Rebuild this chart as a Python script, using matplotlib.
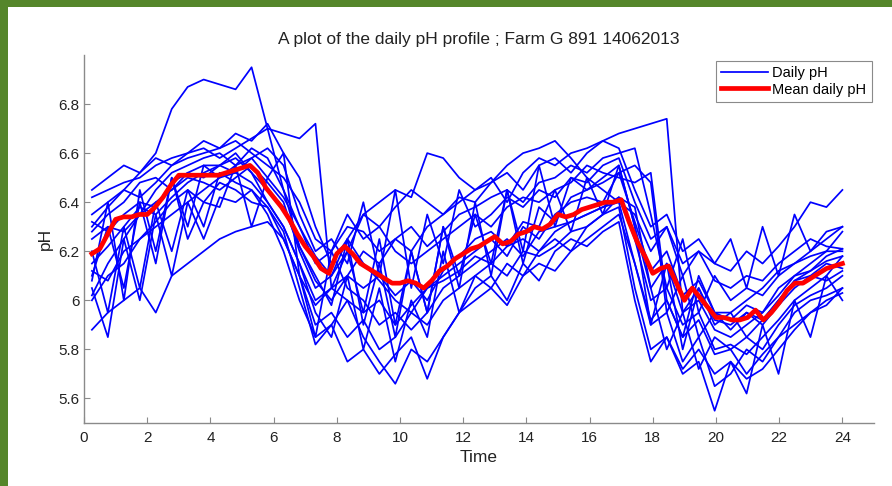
import matplotlib
matplotlib.use("Agg")
import matplotlib.pyplot as plt
from matplotlib.patches import Rectangle
from matplotlib.ticker import FuncFormatter
import numpy as np

plt.rcParams['font.family'] = ['Liberation Sans', 'DejaVu Sans']

# sampling grid of the daily profiles (hours)
time = np.linspace(0.25, 24, 48)

# individual daily pH profiles
daily_ph = [
    [6.30, 6.38, 6.45, 6.52, 6.60, 6.78, 6.87, 6.90, 6.88, 6.86, 6.95, 6.70, 6.45, 6.22, 6.10, 5.98,
     6.25, 5.90, 6.15, 5.85, 6.20, 5.95, 6.30, 6.10, 6.35, 6.15, 6.45, 6.20, 6.55, 6.30, 6.50, 6.45,
     6.50, 6.55, 6.30, 6.05, 6.15, 5.95, 6.00, 5.88, 5.85, 5.90, 5.95, 6.05, 6.10, 6.15, 6.20, 6.28],
    [6.42, 6.45, 6.48, 6.50, 6.55, 6.58, 6.60, 6.62, 6.58, 6.62, 6.66, 6.70, 6.68, 6.66, 6.72, 6.05,
     6.20, 6.35, 6.40, 6.45, 6.42, 6.60, 6.58, 6.50, 6.45, 6.48, 6.55, 6.60, 6.62, 6.65, 6.58, 6.50,
     6.45, 6.40, 6.35, 6.20, 6.30, 6.10, 6.20, 6.15, 6.12, 6.20, 6.15, 6.22, 6.30, 6.40, 6.38, 6.45],
    [6.10, 6.30, 6.05, 6.40, 6.15, 6.50, 6.30, 6.55, 6.55, 6.60, 6.52, 6.40, 6.30, 6.15, 6.00, 6.05,
     6.10, 6.20, 6.15, 6.25, 6.20, 6.30, 6.35, 6.40, 6.45, 6.50, 6.40, 6.52, 6.58, 6.55, 6.60, 6.62,
     6.65, 6.68, 6.70, 6.72, 6.74, 5.95, 6.05, 5.90, 5.95, 5.85, 5.92, 6.00, 6.08, 6.12, 6.18, 6.21],
    [5.88, 5.95, 6.00, 6.05, 5.95, 6.10, 6.15, 6.20, 6.25, 6.28, 6.30, 6.32, 6.25, 6.10, 5.90, 5.95,
     5.85, 5.92, 5.80, 5.85, 5.95, 5.90, 6.00, 6.05, 6.10, 6.05, 6.15, 6.10, 6.20, 6.25, 6.20, 6.30,
     6.35, 6.42, 6.38, 6.05, 5.80, 5.95, 5.72, 5.85, 5.80, 5.70, 5.78, 5.85, 5.90, 5.95, 6.00, 6.03],
    [6.02, 6.15, 6.25, 6.35, 6.40, 6.45, 6.50, 6.48, 6.45, 6.50, 6.55, 6.48, 6.40, 6.20, 6.05, 6.10,
     6.25, 6.15, 6.08, 6.00, 5.95, 6.05, 6.10, 6.15, 6.20, 6.25, 6.18, 6.30, 6.25, 6.35, 6.40, 6.42,
     6.40, 6.52, 6.55, 6.48, 5.95, 6.10, 5.85, 5.95, 5.88, 5.95, 5.90, 5.98, 6.05, 6.10, 6.08, 6.12],
    [6.20, 5.95, 6.30, 6.05, 6.40, 6.20, 6.45, 6.30, 6.52, 6.48, 6.45, 6.35, 6.20, 6.00, 5.85, 5.90,
     6.00, 5.85, 5.75, 5.66, 5.80, 5.75, 5.85, 5.95, 6.00, 6.05, 5.98, 6.10, 6.15, 6.12, 6.20, 6.25,
     6.30, 6.35, 6.15, 5.90, 5.95, 5.75, 5.85, 5.65, 5.70, 5.80, 5.75, 5.85, 5.95, 6.00, 6.02, 6.05],
    [6.35, 6.40, 6.45, 6.42, 6.48, 6.55, 6.58, 6.60, 6.62, 6.65, 6.60, 6.55, 6.50, 6.40, 6.25, 6.20,
     6.30, 6.28, 6.20, 6.25, 6.30, 6.22, 6.28, 6.35, 6.38, 6.42, 6.45, 6.40, 6.48, 6.50, 6.55, 6.52,
     6.58, 6.60, 6.62, 6.35, 6.05, 6.25, 5.95, 6.10, 6.00, 6.05, 6.02, 6.10, 6.15, 6.20, 6.25, 6.30],
    [6.12, 6.08, 6.20, 6.25, 6.32, 6.40, 6.45, 6.40, 6.38, 6.55, 6.30, 6.50, 6.60, 6.10, 5.85, 6.20,
     6.05, 6.00, 5.90, 5.95, 5.88, 5.95, 6.05, 6.10, 6.15, 6.20, 6.25, 6.18, 6.28, 6.30, 6.32, 6.35,
     6.38, 6.42, 6.25, 6.00, 6.05, 5.90, 5.95, 5.80, 5.82, 5.78, 5.85, 5.92, 6.00, 6.05, 6.10, 6.18],
    [6.25, 6.30, 6.28, 6.35, 6.45, 6.52, 6.55, 6.58, 6.60, 6.55, 6.62, 6.58, 6.45, 6.30, 6.15, 6.20,
     6.35, 6.25, 6.30, 6.20, 6.15, 6.20, 6.25, 6.30, 6.35, 6.30, 6.38, 6.42, 6.40, 6.45, 6.48, 6.55,
     6.52, 6.50, 6.48, 6.52, 6.00, 5.85, 6.10, 5.95, 5.95, 6.00, 6.05, 6.12, 6.15, 6.18, 6.20, 6.20],
    [6.00, 6.10, 6.15, 6.25, 6.30, 6.35, 6.40, 6.45, 6.50, 6.52, 6.48, 6.40, 6.30, 6.15, 5.95, 5.85,
     6.10, 5.80, 6.05, 5.75, 6.00, 5.85, 6.20, 5.95, 6.10, 6.15, 6.10, 6.20, 6.18, 6.22, 6.28, 6.30,
     6.35, 6.38, 6.05, 5.80, 5.85, 5.70, 5.75, 5.55, 5.75, 5.62, 5.90, 5.70, 6.00, 5.85, 6.10, 6.00],
    [6.15, 6.22, 6.30, 6.38, 6.35, 6.42, 6.48, 6.52, 6.55, 6.58, 6.52, 6.45, 6.38, 6.22, 6.08, 6.00,
     6.10, 6.05, 6.10, 6.02, 6.08, 6.00, 6.12, 6.18, 6.25, 6.28, 6.22, 6.32, 6.30, 6.45, 6.28, 6.50,
     6.35, 6.55, 6.30, 5.90, 6.15, 5.80, 6.05, 5.92, 5.90, 5.95, 5.92, 6.00, 6.08, 6.10, 6.15, 6.13],
    [6.45, 6.50, 6.55, 6.52, 6.58, 6.55, 6.60, 6.65, 6.62, 6.68, 6.65, 6.72, 6.60, 6.50, 6.30, 6.15,
     6.25, 6.35, 6.30, 6.38, 6.45, 6.40, 6.35, 6.42, 6.40, 6.48, 6.52, 6.45, 6.55, 6.58, 6.52, 6.60,
     6.65, 6.62, 6.45, 6.30, 6.35, 6.20, 6.25, 6.15, 6.25, 6.05, 6.30, 6.10, 6.35, 6.20, 6.28, 6.30],
    [6.05, 5.85, 6.25, 6.00, 6.35, 6.10, 6.40, 6.25, 6.42, 6.40, 6.45, 6.38, 6.28, 6.05, 5.82, 5.90,
     5.75, 5.80, 5.70, 5.78, 5.85, 5.68, 5.85, 5.95, 6.05, 6.10, 6.00, 6.15, 6.08, 6.20, 6.25, 6.22,
     6.28, 6.32, 6.00, 5.75, 5.85, 5.72, 5.80, 5.70, 5.75, 5.68, 5.72, 5.80, 5.88, 5.95, 5.98, 6.05],
    [6.28, 6.35, 6.40, 6.48, 6.50, 6.45, 6.52, 6.55, 6.50, 6.55, 6.58, 6.62, 6.55, 6.35, 6.20, 6.25,
     6.15, 6.40, 6.10, 6.45, 6.05, 6.35, 6.15, 6.45, 6.30, 6.35, 6.42, 6.38, 6.45, 6.42, 6.50, 6.48,
     6.55, 6.58, 6.40, 6.25, 6.30, 6.15, 6.20, 6.08, 6.05, 6.10, 6.08, 6.15, 6.20, 6.25, 6.22, 6.21],
    [6.08, 6.40, 6.00, 6.45, 6.20, 6.50, 6.25, 6.40, 6.48, 6.45, 6.40, 6.38, 6.25, 6.10, 5.98, 6.05,
     6.00, 5.95, 6.00, 5.90, 5.98, 6.05, 6.08, 6.12, 6.18, 6.15, 6.22, 6.25, 6.20, 6.28, 6.32, 6.35,
     6.38, 6.40, 6.15, 5.92, 6.00, 5.85, 5.92, 5.78, 5.80, 5.85, 5.80, 5.90, 5.98, 6.02, 6.05, 6.10],
    [6.32, 6.28, 6.35, 6.40, 6.38, 6.48, 6.52, 6.50, 6.55, 6.52, 6.58, 6.50, 6.42, 6.30, 6.18, 6.10,
     6.20, 5.95, 6.25, 5.90, 6.20, 5.95, 6.30, 6.05, 6.40, 6.10, 6.45, 6.15, 6.38, 6.32, 6.42, 6.45,
     6.48, 6.52, 6.32, 6.12, 6.20, 6.02, 6.08, 5.95, 5.92, 5.98, 5.95, 6.02, 6.10, 6.12, 6.16, 6.18],
]

# mean daily profile (red line)
mean_time = np.arange(0.25, 24.01, 0.25)
mean_ph = [6.19, 6.21, 6.27, 6.33, 6.34, 6.34, 6.35, 6.35, 6.38, 6.42, 6.47, 6.51,
           6.51, 6.51, 6.51, 6.51, 6.51, 6.52, 6.53, 6.54, 6.55, 6.52, 6.46, 6.42,
           6.38, 6.33, 6.27, 6.22, 6.18, 6.13, 6.11, 6.19, 6.22, 6.19, 6.15, 6.13,
           6.11, 6.09, 6.07, 6.07, 6.08, 6.07, 6.05, 6.08, 6.12, 6.14, 6.17, 6.19,
           6.21, 6.22, 6.24, 6.26, 6.23, 6.24, 6.27, 6.28, 6.30, 6.29, 6.31, 6.35,
           6.34, 6.35, 6.37, 6.38, 6.39, 6.40, 6.40, 6.41, 6.32, 6.24, 6.18, 6.11,
           6.13, 6.14, 6.07, 6.00, 6.05, 6.01, 5.97, 5.93, 5.93, 5.92, 5.92, 5.93,
           5.96, 5.92, 5.95, 5.99, 6.04, 6.07, 6.07, 6.09, 6.11, 6.13, 6.14, 6.15]

fig = plt.figure(figsize=(8.92, 4.86), dpi=100)
fig.patch.set_facecolor('#55862a')
# white slide panel, green edge left and top (kept behind the axes)
fig.patches.append(Rectangle((8 / 892, 0), 1, 1 - 7 / 486, transform=fig.transFigure,
                             facecolor='white', edgecolor='none', zorder=-10))

ax = fig.add_axes([84 / 892, 63 / 486, 790 / 892, 368 / 486])
ax.set_facecolor('white')

for i, prof in enumerate(daily_ph):
    ax.plot(time, prof, color='#0000ff', lw=1.25,
            label='Daily pH' if i == 0 else None)
ax.plot(mean_time, mean_ph, color='#ff0000', lw=3.4, label='Mean daily pH')

ax.set_xlim(0, 25)
ax.set_ylim(5.5, 7.0)
ax.set_xticks(np.arange(0, 25, 2))
ax.set_yticks([5.6, 5.8, 6.0, 6.2, 6.4, 6.6, 6.8])
ax.yaxis.set_major_formatter(FuncFormatter(lambda v, p: f'{v:g}'))

for s in ['top', 'right']:
    ax.spines[s].set_visible(False)
for s in ['left', 'bottom']:
    ax.spines[s].set_color('#8a8a8a')
    ax.spines[s].set_linewidth(1.0)
ax.tick_params(direction='in', length=4, color='#8a8a8a', labelsize=11,
               labelcolor='#222222', pad=3)
ax.tick_params(axis='x', pad=6)

ax.set_title('A plot of the daily pH profile ; Farm G 891 14062013',
             fontsize=12.5, color='#222222', pad=8)
ax.set_xlabel('Time', fontsize=12.5, color='#222222', labelpad=3)
ax.set_ylabel('pH', fontsize=12.5, color='#222222', labelpad=4)

leg = ax.legend(loc='upper right', bbox_to_anchor=(0.997, 0.985), fontsize=10.5,
                fancybox=False, framealpha=1, edgecolor='#8a8a8a',
                handlelength=3.2, handletextpad=0.3, borderpad=0.35,
                labelspacing=0.2, borderaxespad=0)
leg.get_frame().set_linewidth(0.8)

fig.savefig('out.png', dpi=100, facecolor=fig.get_facecolor())
